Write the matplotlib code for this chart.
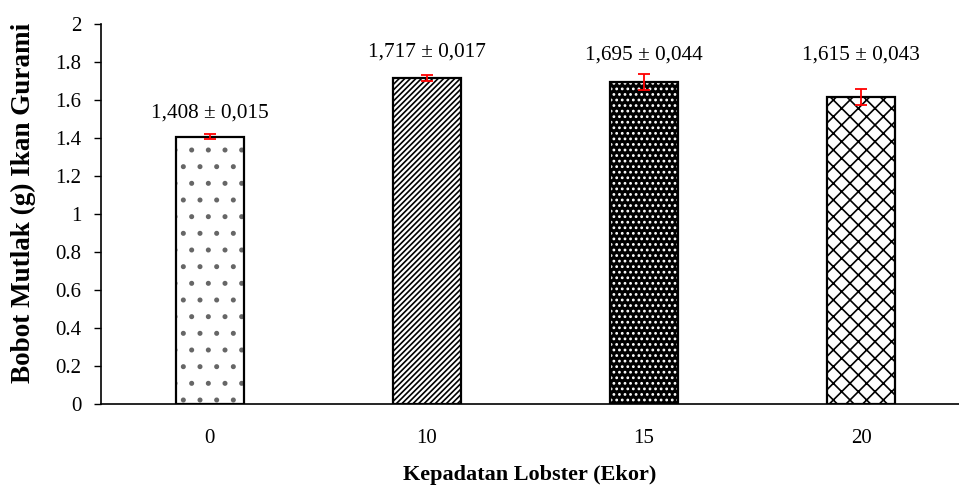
import matplotlib
matplotlib.use("Agg")
import matplotlib.pyplot as plt
from matplotlib.ticker import FuncFormatter

# data
densities = ["0", "10", "15", "20"]
means = [1.408, 1.717, 1.695, 1.615]
sds = [0.015, 0.017, 0.044, 0.043]
value_labels = ["1,408 \u00b1 0,015", "1,717 \u00b1 0,017",
                "1,695 \u00b1 0,044", "1,615 \u00b1 0,043"]
label_heights = [1.53, 1.855, 1.835, 1.835]

hatches = [".", "//////", "...", "xx"]
faces = ["white", "white", "black", "white"]
hatch_colors = ["#666666", "black", "white", "black"]

plt.rcParams["font.family"] = ["Liberation Serif", "DejaVu Serif"]
plt.rcParams["hatch.linewidth"] = 1.2

fig = plt.figure(figsize=(9.59, 4.91), dpi=100)
ax = fig.add_axes([0.1053, 0.177, 0.8947, 0.774])

x = list(range(len(densities)))
bars = ax.bar(x, means, width=0.313, linewidth=0, zorder=2)
for b, h, fc, hc in zip(bars, hatches, faces, hatch_colors):
    b.set_facecolor(fc)
    b.set_edgecolor(hc)
    b.set_hatch(h)
ax.bar(x, means, width=0.313, fill=False, edgecolor="black", linewidth=1.6, zorder=3)

ax.errorbar(x, means, yerr=sds, fmt="none", ecolor="red", elinewidth=1.3,
            capsize=4, capthick=1.3, zorder=4)

for xi, ly, txt in zip(x, label_heights, value_labels):
    ax.text(xi, ly, txt, ha="center", va="center", fontsize=15.3)

ax.set_ylim(0, 2)
ax.set_xlim(-0.5, 3.45)
ax.set_yticks([i * 0.2 for i in range(11)])
ax.yaxis.set_major_formatter(FuncFormatter(lambda v, p: "%g" % round(v, 1)))
ax.set_xticks(x)
ax.set_xticklabels(densities)
ax.tick_params(axis="y", direction="out", length=5, width=1, labelsize=15, pad=9)
ax.tick_params(axis="x", length=0, labelsize=15, pad=18)

for s in ["top", "right"]:
    ax.spines[s].set_visible(False)
ax.spines["left"].set_linewidth(1.2)
ax.spines["bottom"].set_linewidth(1.2)

ax.set_ylabel("Bobot Mutlak (g) Ikan Gurami", fontsize=19.5, fontweight="bold")
ax.yaxis.set_label_coords(-0.076, 0.53)
ax.set_xlabel("Kepadatan Lobster (Ekor)", fontsize=16, fontweight="bold", labelpad=12)

fig.savefig("out.png", dpi=100)
